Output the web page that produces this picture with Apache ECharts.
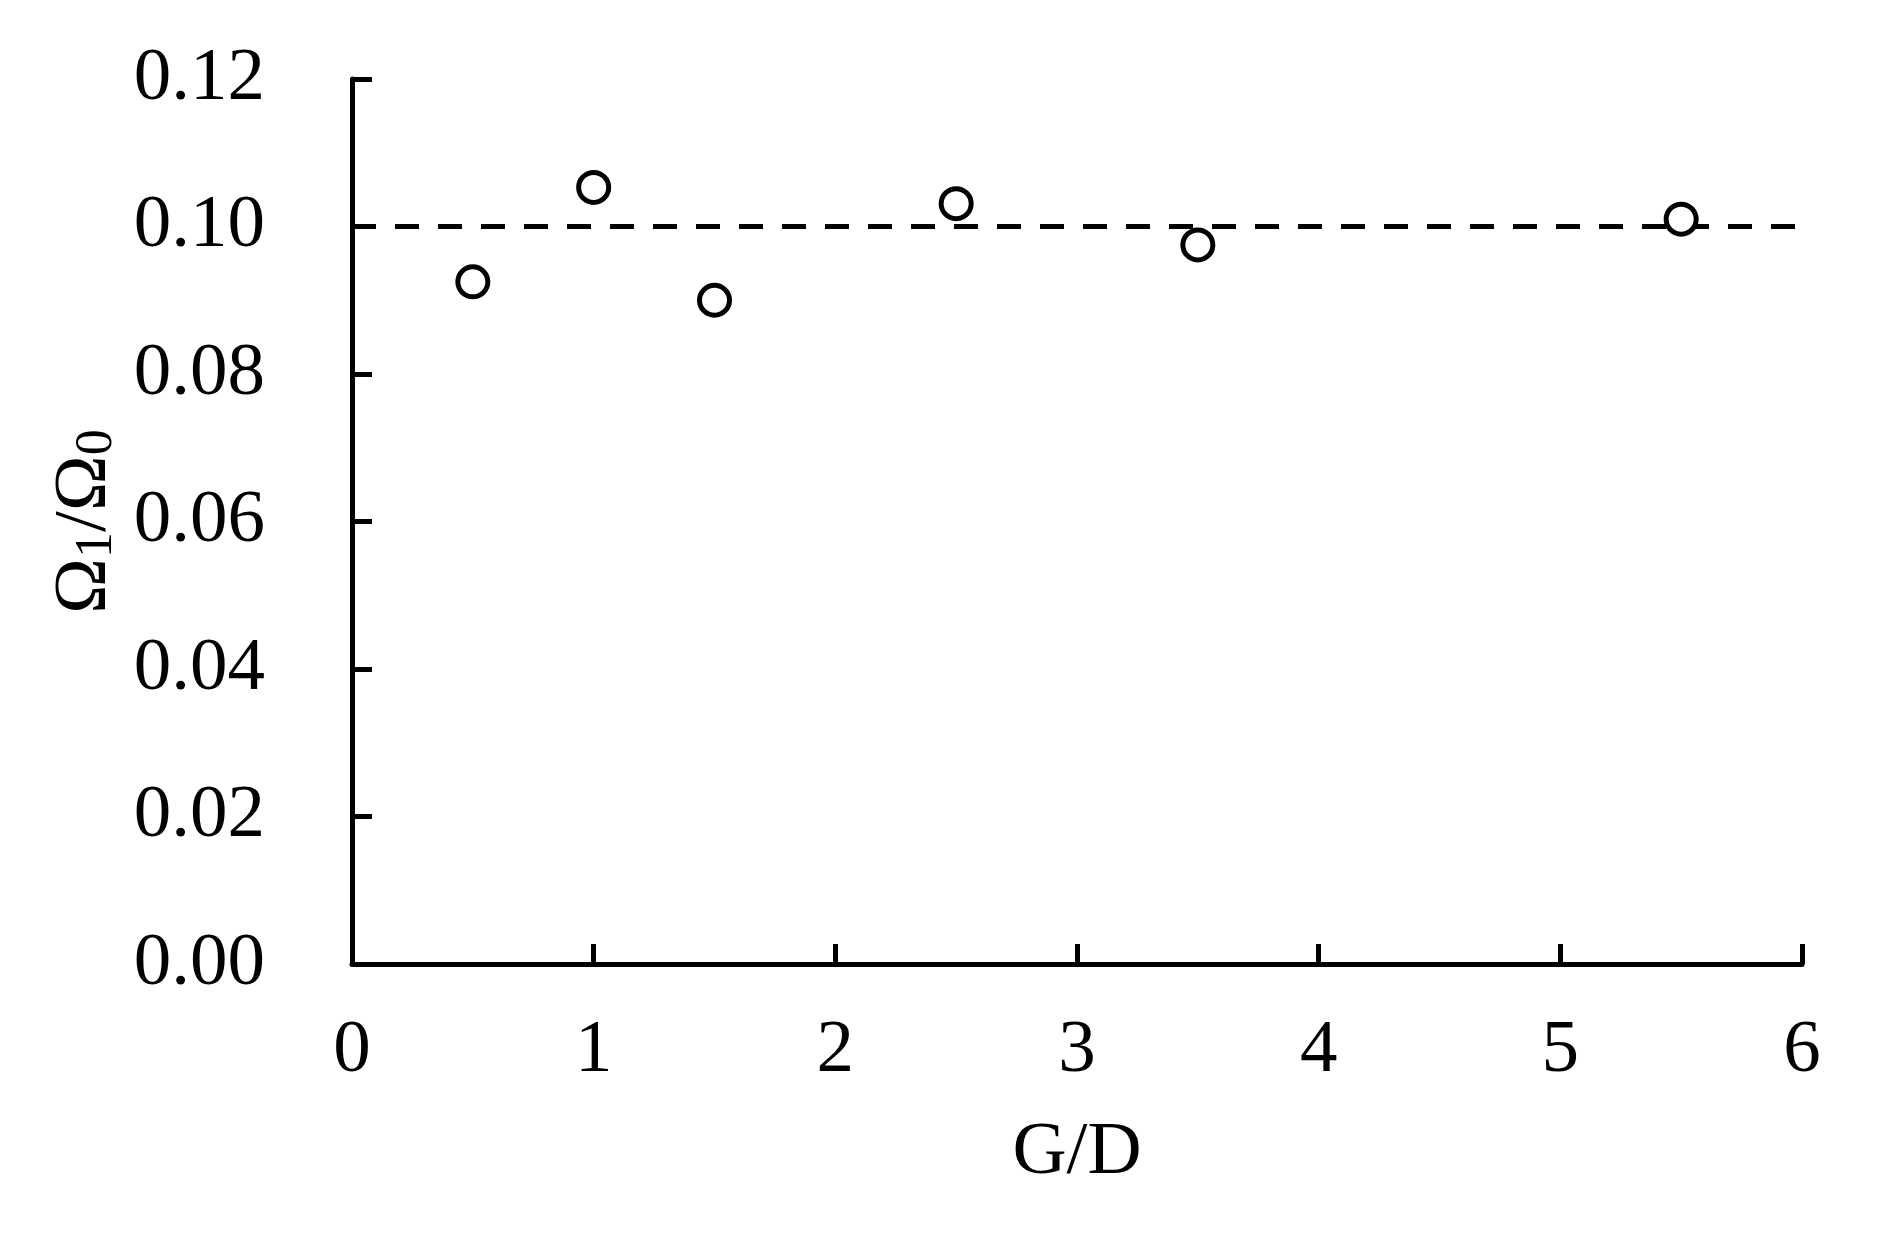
<!DOCTYPE html>
<html>
<head>
<meta charset="utf-8">
<title>G/D</title>
<script src="https://cdn.jsdelivr.net/npm/echarts@6/dist/echarts.min.js"></script>
<style>
  html, body { margin: 0; padding: 0; background: #fff; }
</style>
</head>
<body>
<!--为echarts准备一个具备大小的容器dom-->
<div id="main" style="width: 1881px;height: 1238px;"></div>
<script>
// G/D values and measured ratio
var gdValues = [0.5, 1, 1.5, 2.5, 3.5, 5.5]
var ratioValues = [0.0925, 0.1053, 0.0900, 0.1031, 0.0975, 0.1010]
// dashed reference line
var refX = [0, 6]
var refY = [0.10, 0.10]

var serif = 'Liberation Serif'
var myChart = echarts.init(document.getElementById('main'))
var option = {
  backgroundColor: '#fff',
  animation: false,
  grid: {
    left: 352,
    right: 79,
    top: 79,
    bottom: 274
  },
  xAxis: {
    type: 'value',
    min: 0,
    max: 6,
    interval: 1,
    name: 'G/D',
    nameLocation: 'middle',
    nameGap: 152,
    nameTextStyle: { fontFamily: serif, fontSize: 75, color: '#000' },
    axisLine: { lineStyle: { color: '#000', width: 5 } },
    axisTick: { inside: true, length: 20, lineStyle: { color: '#000', width: 5 } },
    axisLabel: { fontFamily: serif, fontSize: 75, color: '#000', margin: 50 },
    splitLine: { show: false }
  },
  yAxis: {
    type: 'value',
    min: 0,
    max: 0.12,
    interval: 0.02,
    name: '{a|Ω}{s|1}{a|/Ω}{s|0}',
    nameLocation: 'middle',
    nameRotate: 90,
    nameGap: 222,
    nameTextStyle: {
      fontFamily: serif,
      color: '#000',
      rich: {
        a: { fontFamily: serif, fontSize: 75, color: '#000', lineHeight: 75 },
        s: { fontFamily: serif, fontSize: 52, color: '#000', verticalAlign: 'bottom', lineHeight: 52, padding: [24, 0, 0, 0] }
      }
    },
    axisLine: { show: true, lineStyle: { color: '#000', width: 5 } },
    axisTick: { show: true, inside: true, length: 20, lineStyle: { color: '#000', width: 5 } },
    axisLabel: {
      fontFamily: serif,
      fontSize: 75,
      color: '#000',
      margin: 87,
      formatter: function (v) { return v.toFixed(2) }
    },
    splitLine: { show: false }
  },
  series: [
    {
      type: 'line',
      data: refX.map(function (x, i) { return [x, refY[i]] }),
      symbol: 'none',
      lineStyle: { color: '#000', width: 5, type: [24, 19] },
      z: 2
    },
    {
      type: 'scatter',
      data: gdValues.map(function (x, i) { return [x, ratioValues[i]] }),
      symbol: 'circle',
      symbolSize: 30,
      itemStyle: { color: '#fff', borderColor: '#000', borderWidth: 5, opacity: 1 },
      z: 3
    }
  ]
}
myChart.setOption(option)
</script>
</body>
</html>
